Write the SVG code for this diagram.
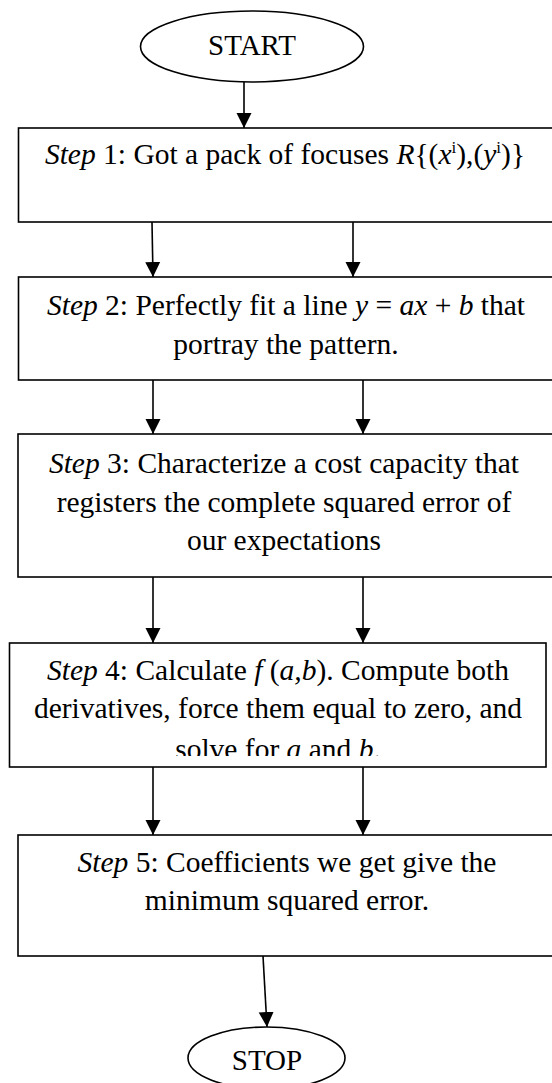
<svg xmlns="http://www.w3.org/2000/svg" width="552" height="1083" viewBox="0 0 552 1083">
<style>
.box{fill:#fff;stroke:#000;stroke-width:1.6}
.term{fill:#fff;stroke:#000;stroke-width:1.6}
.t{font-family:"Liberation Serif","Times New Roman",serif;font-size:29.5px;fill:#000;text-anchor:middle}
.tt{font-family:"Liberation Serif","Times New Roman",serif;font-size:29px;fill:#000;text-anchor:middle}
.i{font-style:italic}
.conn line{stroke:#000;stroke-width:1.6;fill:none}
</style>
<defs>
<marker id="ah" markerUnits="userSpaceOnUse" markerWidth="16" markerHeight="16" viewBox="0 0 16 16" refX="15" refY="8" orient="auto">
<path d="M0,0.5 L15,8 L0,15.5 Z" fill="#000"/>
</marker>
<clipPath id="c4"><rect x="9" y="643" width="537" height="113"/></clipPath>
</defs>
<rect width="552" height="1083" fill="#fff"/>

<g id="start">
<ellipse class="term" cx="252" cy="46.5" rx="111.5" ry="35.5"/>
<text class="tt" x="252" y="55">START</text>
</g>

<g id="step1">
<rect class="box" x="18.5" y="128" width="545" height="94"/>
<text class="t" x="285" y="164"><tspan class="i">Step</tspan> 1: Got a pack of focuses <tspan class="i">R</tspan>{(<tspan class="i">x</tspan><tspan font-size="17" dy="-11">i</tspan><tspan dy="11">),(</tspan><tspan class="i">y</tspan><tspan font-size="17" dy="-11">i</tspan><tspan dy="11">)}</tspan></text>
</g>

<g id="step2">
<rect class="box" x="18.5" y="277" width="545" height="103"/>
<text class="t" x="286" y="315"><tspan class="i">Step</tspan> 2: Perfectly fit a line <tspan class="i">y</tspan> = <tspan class="i">ax</tspan> + <tspan class="i">b</tspan> that</text>
<text class="t" x="286" y="354">portray the pattern.</text>
</g>

<g id="step3">
<rect class="box" x="18" y="434" width="545" height="143"/>
<text class="t" x="284" y="473"><tspan class="i">Step</tspan> 3: Characterize a cost capacity that</text>
<text class="t" x="284" y="512">registers the complete squared error of</text>
<text class="t" x="284" y="550">our expectations</text>
</g>

<g id="step4">
<rect class="box" x="9.5" y="643" width="536.5" height="124"/>
<g clip-path="url(#c4)">
<text class="t" x="278" y="680"><tspan class="i">Step</tspan> 4: Calculate <tspan class="i">f</tspan> (<tspan class="i">a,b</tspan>). Compute both</text>
<text class="t" x="278" y="718">derivatives, force them equal to zero, and</text>
<text class="t" x="278" y="759">solve for <tspan class="i">a</tspan> and <tspan class="i">b</tspan>.</text>
</g>
</g>

<g id="step5">
<rect class="box" x="18" y="835" width="545" height="121"/>
<text class="t" x="287" y="872"><tspan class="i">Step</tspan> 5: Coefficients we get give the</text>
<text class="t" x="287" y="910">minimum squared error.</text>
</g>

<g id="stop">
<ellipse class="term" cx="266.5" cy="1058" rx="78.5" ry="31"/>
<text class="tt" x="267" y="1070">STOP</text>
</g>

<g id="connectors" class="conn">
<line x1="244" y1="82" x2="244" y2="128" marker-end="url(#ah)"/>
<line x1="152" y1="222" x2="153" y2="277" marker-end="url(#ah)"/>
<line x1="353" y1="222" x2="353" y2="277" marker-end="url(#ah)"/>
<line x1="153" y1="380" x2="153" y2="434" marker-end="url(#ah)"/>
<line x1="363" y1="380" x2="363" y2="434" marker-end="url(#ah)"/>
<line x1="153" y1="577" x2="153" y2="643" marker-end="url(#ah)"/>
<line x1="363" y1="577" x2="363" y2="643" marker-end="url(#ah)"/>
<line x1="153" y1="767" x2="153" y2="835" marker-end="url(#ah)"/>
<line x1="363" y1="767" x2="363" y2="835" marker-end="url(#ah)"/>
<line x1="263" y1="956" x2="267" y2="1027" marker-end="url(#ah)"/>
</g>
</svg>
